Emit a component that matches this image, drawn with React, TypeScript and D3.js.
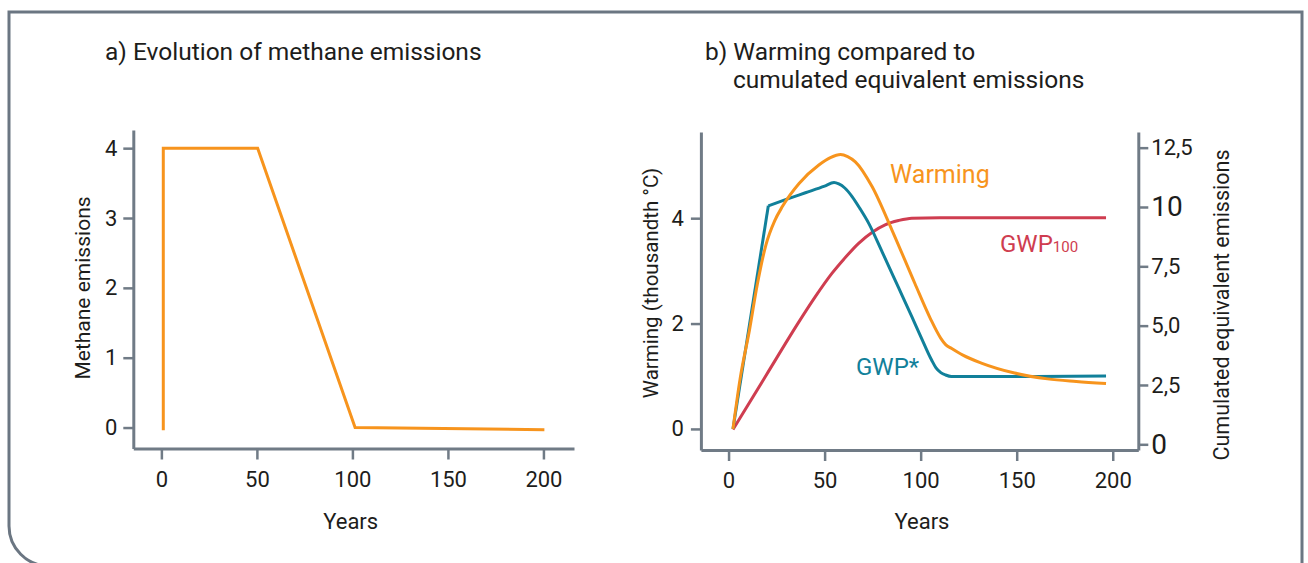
import { useEffect, useRef } from "react";
import * as d3 from "d3";

// panel a) methane emissions
const yearTicks = [0, 50, 100, 150, 200];
const methaneTicks = [0, 1, 2, 3, 4];
const methane: [number, number][] = [
  [1, -0.04], [1, 4], [50.4, 4], [101.4, 0], [200.5, -0.03],
];

// panel b) warming vs cumulated equivalent emissions
const warmingTicks = [0, 2, 4];
const cumulTicks = [0, 2.5, 5, 7.5, 10, 12.5];
const cumulTickLabels = ["0", "2,5", "5,0", "7,5", "10", "12,5"];

// warming, thousandth °C (left axis)
const warming: [number, number][] = [
  [2.3, 0], [6, 0.95], [10.9, 1.88], [15, 2.75], [19.5, 3.5], [24, 3.95],
  [28, 4.22], [36.7, 4.66], [47, 5.01], [53, 5.15], [58.3, 5.21], [62, 5.17],
  [66, 5.07], [74.7, 4.6], [85, 3.78], [97, 2.76], [105, 2.1], [110.5, 1.72],
  [113, 1.6], [116, 1.53], [122, 1.4], [131.6, 1.25], [148.9, 1.06],
  [166, 0.95], [181, 0.9], [196.5, 0.86],
];

// GWP* cumulated emissions (right axis)
const gwpStar: [number, number][] = [
  [2.3, 0.65], [20.7, 10.05], [30, 10.32], [40, 10.6], [50, 10.88],
  [54.9, 11.03], [57.4, 10.97], [60.5, 10.8], [64.3, 10.44], [68.5, 9.92],
  [72.9, 9.32], [80, 8.1], [88.5, 6.6], [95.4, 5.38], [100, 4.55],
  [105.7, 3.55], [108, 3.22], [110.5, 3.02], [113, 2.92], [116, 2.86],
  [150, 2.86], [196.5, 2.88],
];

// GWP100 cumulated emissions (right axis)
const gwp100: [number, number][] = [
  [2.3, 0.62], [19.5, 2.9], [36.7, 5.17], [45, 6.2], [53.9, 7.21],
  [60, 7.8], [67.7, 8.47], [75, 8.95], [81.5, 9.25], [88.5, 9.43],
  [95.4, 9.53], [110, 9.55], [196.5, 9.55],
];

const FONT = "Roboto, 'Open Sans', sans-serif";
const TEXT = "#1d1d1b";
const GREY = "#707b86";
const ORANGE = "#f7941d";
const TEAL = "#11809a";
const RED = "#cf3d50";

export default function App() {
  const svgRef = useRef<SVGSVGElement | null>(null);

  useEffect(() => {
    if (!svgRef.current) return;
    const svg = d3.select(svgRef.current);
    svg.selectAll("*").remove();

    // frame around the figure
    svg.append("path")
      .attr("d", "M1302,600 V12 H9 V526 A40,40 0 0 0 49,566")
      .attr("fill", "none")
      .attr("stroke", "#6b7682")
      .attr("stroke-width", 3);

    const styleAxis = (g: any, size = 22) => {
      g.select(".domain").attr("stroke", GREY).attr("stroke-width", 3);
      g.selectAll(".tick line").attr("stroke", GREY).attr("stroke-width", 2.5);
      g.selectAll(".tick text")
        .attr("fill", TEXT)
        .style("font-family", FONT)
        .style("font-size", size + "px");
    };

    const text = (x: number, y: number, s: string, size: number, color = TEXT, rotate = false) =>
      svg.append("text")
        .attr("transform", rotate ? `translate(${x},${y}) rotate(-90)` : `translate(${x},${y})`)
        .attr("text-anchor", rotate ? "middle" : "start")
        .attr("fill", color)
        .style("font-family", FONT)
        .style("font-size", size + "px")
        .text(s);

    const intFmt = d3.format("d");

    // ---------- panel a ----------
    const xa = d3.scaleLinear().domain([-14.7, 216]).range([133.3, 574]);
    const ya = d3.scaleLinear().domain([-0.3, 4.26]).range([448.5, 130]);

    svg.append("g").attr("transform", "translate(0,448.5)")
      .call(d3.axisBottom(xa).tickValues(yearTicks).tickFormat(intFmt)
        .tickSize(11).tickSizeOuter(0).tickPadding(12))
      .call(styleAxis);
    svg.append("g").attr("transform", "translate(133.3,0)")
      .call(d3.axisLeft(ya).tickValues(methaneTicks).tickFormat(intFmt)
        .tickSize(10).tickSizeOuter(0).tickPadding(6))
      .call(styleAxis);

    svg.append("path")
      .datum(methane)
      .attr("fill", "none")
      .attr("stroke", ORANGE)
      .attr("stroke-width", 3)
      .attr("d", d3.line().x((d) => xa(d[0])).y((d) => ya(d[1])));

    text(105, 60, "a) Evolution of methane emissions", 24.5);
    text(350.7, 529, "Years", 22).attr("text-anchor", "middle");
    text(90, 288, "Methane emissions", 21, TEXT, true);

    // ---------- panel b ----------
    const xb = d3.scaleLinear().domain([-14.4, 213.3]).range([700.9, 1138.3]);
    const yb = d3.scaleLinear().domain([-0.4, 5.636]).range([450, 132]);
    const yr = d3.scaleLinear().domain([-0.24, 13.16]).range([450, 132]);

    svg.append("g").attr("transform", "translate(0,450)")
      .call(d3.axisBottom(xb).tickValues(yearTicks).tickFormat(intFmt)
        .tickSize(11).tickSizeOuter(0).tickPadding(11))
      .call(styleAxis);
    svg.append("g").attr("transform", "translate(700.9,0)")
      .call(d3.axisLeft(yb).tickValues(warmingTicks).tickFormat(intFmt)
        .tickSize(10).tickSizeOuter(0).tickPadding(7))
      .call(styleAxis);
    const ra = svg.append("g").attr("transform", "translate(1138.3,0)")
      .call(d3.axisRight(yr).tickValues(cumulTicks).tickSize(10).tickSizeOuter(0).tickPadding(3)
        .tickFormat((d, i) => cumulTickLabels[i]))
      .call(styleAxis);
    ra.selectAll(".tick text")
      .style("font-size", (d: any) => (d === 0 || d === 10 ? "28px" : "22px"));

    const lineLeft = d3.line<[number, number]>()
      .x((d) => xb(d[0])).y((d) => yb(d[1])).curve(d3.curveMonotoneX);
    const lineRight = d3.line<[number, number]>()
      .x((d) => xb(d[0])).y((d) => yr(d[1])).curve(d3.curveMonotoneX);
    const lineRightStraight = d3.line<[number, number]>()
      .x((d) => xb(d[0])).y((d) => yr(d[1]));

    const draw = (d: string | null, color: string) =>
      svg.append("path")
        .attr("d", d)
        .attr("fill", "none")
        .attr("stroke", color)
        .attr("stroke-width", 3)
        .attr("stroke-linejoin", "round");

    draw(lineRight(gwp100), RED);
    draw(lineRightStraight(gwpStar.slice(0, 2)), TEAL);
    draw(lineRight(gwpStar.slice(1)), TEAL);
    draw(lineLeft(warming), ORANGE);

    text(890, 183, "Warming", 25, ORANGE);
    const g100 = text(1000, 251.5, "GWP", 24, RED);
    g100.append("tspan").style("font-size", "15px").text("100");
    text(856, 375, "GWP*", 24, TEAL);

    text(705, 60, "b) Warming compared to", 24.5);
    text(733, 88, "cumulated equivalent emissions", 24.5);
    text(922, 529, "Years", 22).attr("text-anchor", "middle");
    text(658, 283, "Warming (thousandth °C)", 20.5, TEXT, true);
    text(1229, 305, "Cumulated equivalent emissions", 21.5, TEXT, true);
  }, []);

  return (
    <svg
      ref={svgRef}
      width={1308}
      height={563}
      style={{ position: "absolute", left: 0, top: 0, background: "#fff" }}
    />
  );
}
